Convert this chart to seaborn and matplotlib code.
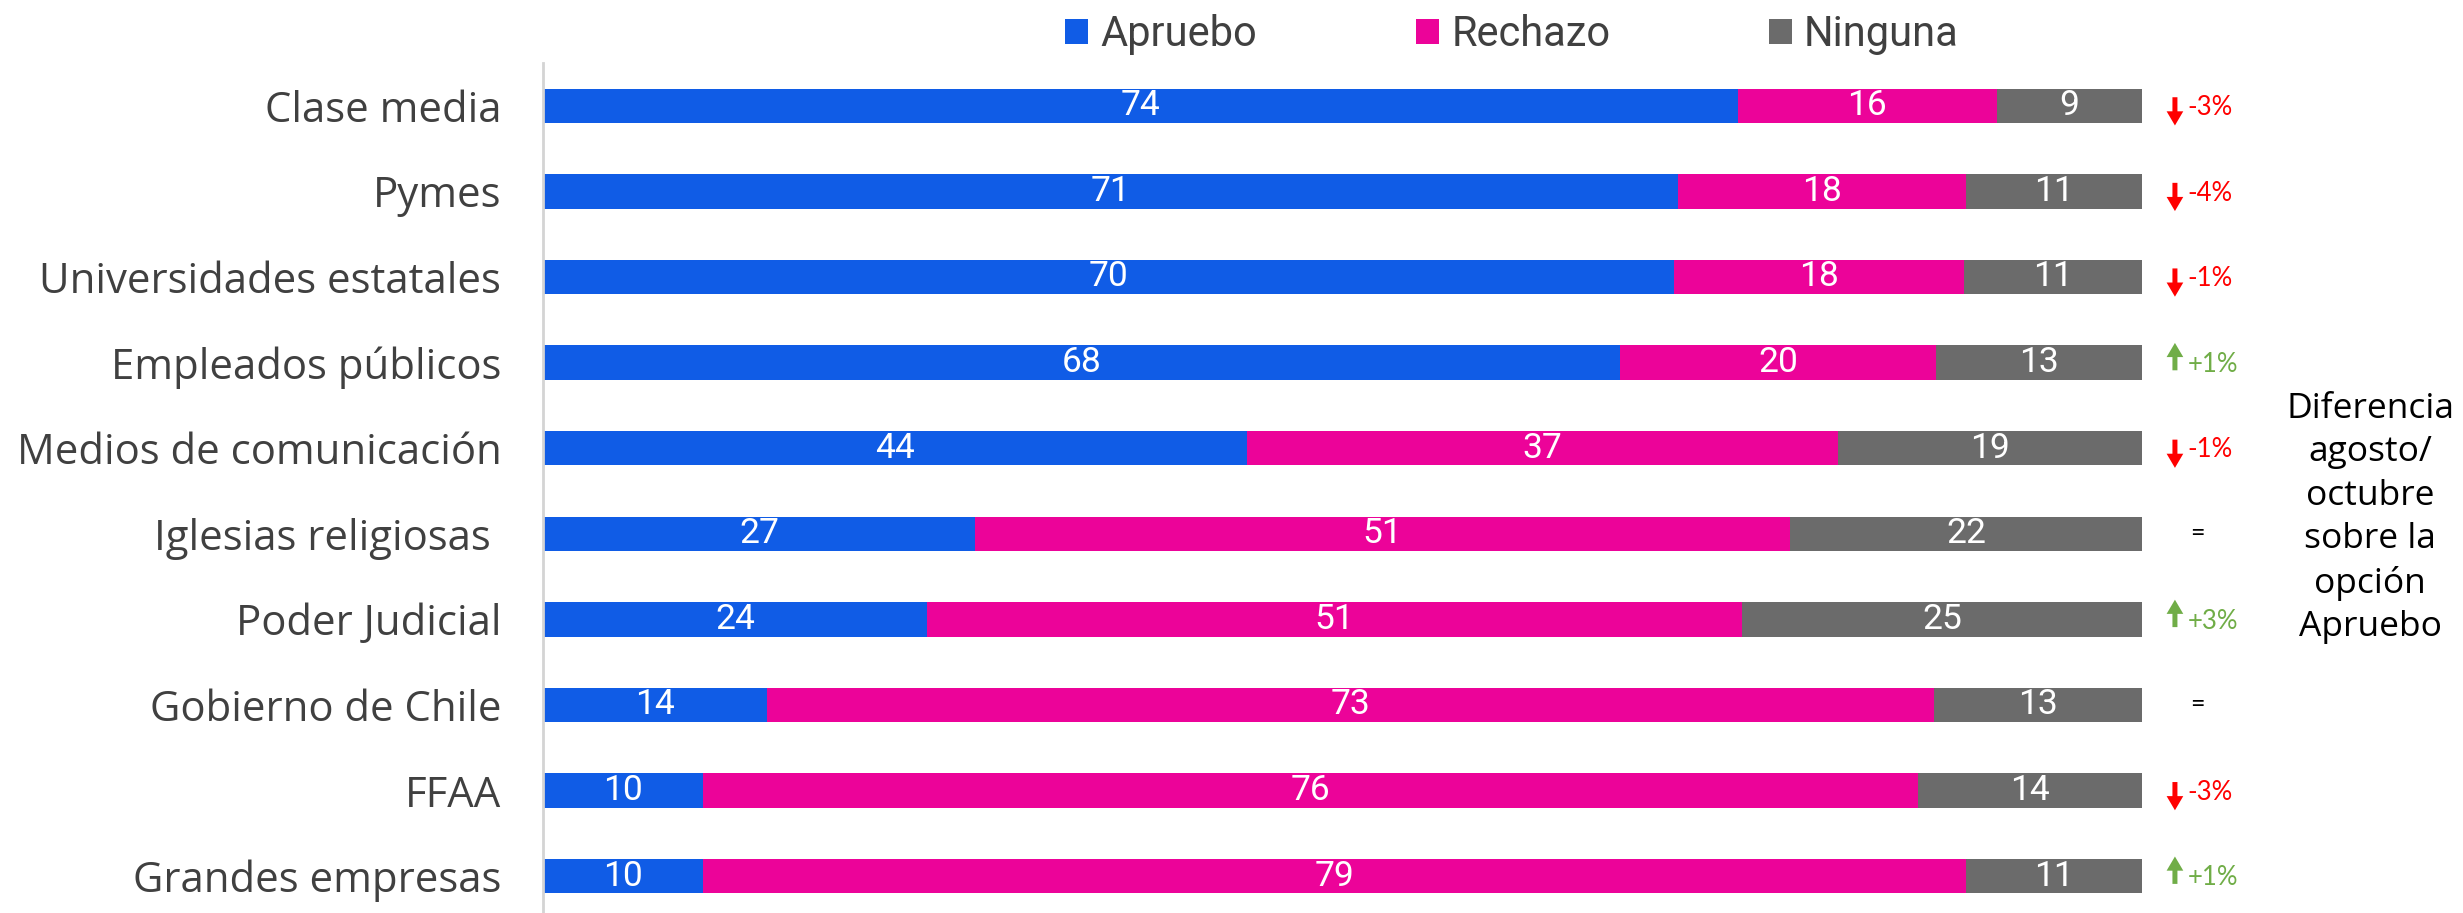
import matplotlib
matplotlib.use("Agg")
import matplotlib.pyplot as plt
from matplotlib.patches import Patch
import seaborn as sns
import pandas as pd
import numpy as np

# ---------------- data ----------------
categories = ["Clase media", "Pymes", "Universidades estatales", "Empleados públicos",
              "Medios de comunicación", "Iglesias religiosas ", "Poder Judicial",
              "Gobierno de Chile", "FFAA", "Grandes empresas"]
apruebo = [74, 71, 70, 68, 44, 27, 24, 14, 10, 10]
rechazo = [16, 18, 18, 20, 37, 51, 51, 73, 76, 79]
ninguna = [9, 11, 11, 13, 19, 22, 25, 13, 14, 11]
diferencia = ["-3%", "-4%", "-1%", "+1%", "-1%", "=", "+3%", "=", "-3%", "+1%"]
series_names = ["Apruebo", "Rechazo", "Ninguna"]
side_note = "Diferencia\nagosto/\noctubre\nsobre la\nopción\nApruebo"

# ---------------- style ----------------
BLUE = "#105CE6"
PINK = "#EC0399"
GRAY = "#6B6B6B"
RED = "#FF0000"
GREEN = "#70AD47"
TXT = "#404040"
WIDE = ["Open Sans", "DejaVu Sans"]

sns.set_theme(style="white")
plt.rcParams["font.family"] = ["Roboto", "DejaVu Sans"]

df = pd.DataFrame({"cat": categories, "a": apruebo, "r": rechazo, "n": ninguna})
tot = df["a"] + df["r"] + df["n"]
df["pa"] = df["a"] / tot * 100
df["pr"] = df["r"] / tot * 100
df["pn"] = df["n"] / tot * 100
df["c1"] = df["pa"]
df["c2"] = df["pa"] + df["pr"]
df["c3"] = df["c2"] + df["pn"]

fig = plt.figure(figsize=(24.63, 9.13), dpi=100)
ax = fig.add_axes([543 / 2463, 0.0, 1599 / 2463, 1 - 63 / 913])

kw = dict(data=df, y="cat", orient="h", width=0.4, saturation=1, linewidth=0, ax=ax)
sns.barplot(x="c3", color=GRAY, **kw)
sns.barplot(x="c2", color=PINK, **kw)
sns.barplot(x="c1", color=BLUE, **kw)

ax.set_xlim(0, 100)
ax.set_ylim(9.43, -0.5)
ax.set_xlabel("")
ax.set_ylabel("")
ax.set_xticks([])
for s in ["top", "right", "bottom"]:
    ax.spines[s].set_visible(False)
ax.spines["left"].set_color("#D4D4D4")
ax.spines["left"].set_linewidth(2)
ax.tick_params(axis="y", length=0, pad=30, labelsize=30.2, labelcolor=TXT)
for lab in ax.get_yticklabels():
    lab.set_family(WIDE)

# segment labels
for i in range(len(categories)):
    starts = [0, df["c1"][i], df["c2"][i]]
    widths = [df["pa"][i], df["pr"][i], df["pn"][i]]
    vals = [apruebo[i], rechazo[i], ninguna[i]]
    for s0, w, v in zip(starts, widths, vals):
        ax.text(s0 + w / 2, i, f"{v}", ha="center", va="center", color="white",
                fontsize=25.5, clip_on=False)

# difference annotations
x_arrow = 102.06
x_text = 102.85
x_eq = 103.44
for i, d in enumerate(diferencia):
    if d == "=":
        ax.text(x_eq, i, "=", ha="center", va="center", fontsize=18, color="black",
                family=["Lato", "DejaVu Sans"], clip_on=False)
        continue
    col = RED if d.startswith("-") else GREEN
    if d.startswith("-"):
        y_tail, y_head = i - 0.10, i + 0.23
    else:
        y_tail, y_head = i + 0.09, i - 0.23
    ax.annotate("", xy=(x_arrow, y_head), xytext=(x_arrow, y_tail), xycoords="data",
                annotation_clip=False,
                arrowprops=dict(arrowstyle="simple,head_length=0.85,head_width=1.0,tail_width=0.3",
                                color=col, lw=0, shrinkA=0, shrinkB=0, mutation_scale=12))
    ax.text(x_text, i + 0.02, d, ha="left", va="center", fontsize=18.5, color=col,
            family=["Lato", "DejaVu Sans"], clip_on=False)

fig.text(2370 / 2463, 1 - 518 / 913, side_note, ha="center", va="center",
         fontsize=25.5, color="black", linespacing=1.36, family=WIDE)

handles = [Patch(facecolor=c, edgecolor="none") for c in [BLUE, PINK, GRAY]]
fig.legend(handles, series_names, loc="center", bbox_to_anchor=(1512 / 2463, 1 - 34.5 / 913),
           ncol=3, frameon=False, fontsize=30, handlelength=0.55, handleheight=0.55,
           handletextpad=0.3, columnspacing=3.8, labelcolor=TXT, borderpad=0)

fig.savefig("out.png", dpi=100)
